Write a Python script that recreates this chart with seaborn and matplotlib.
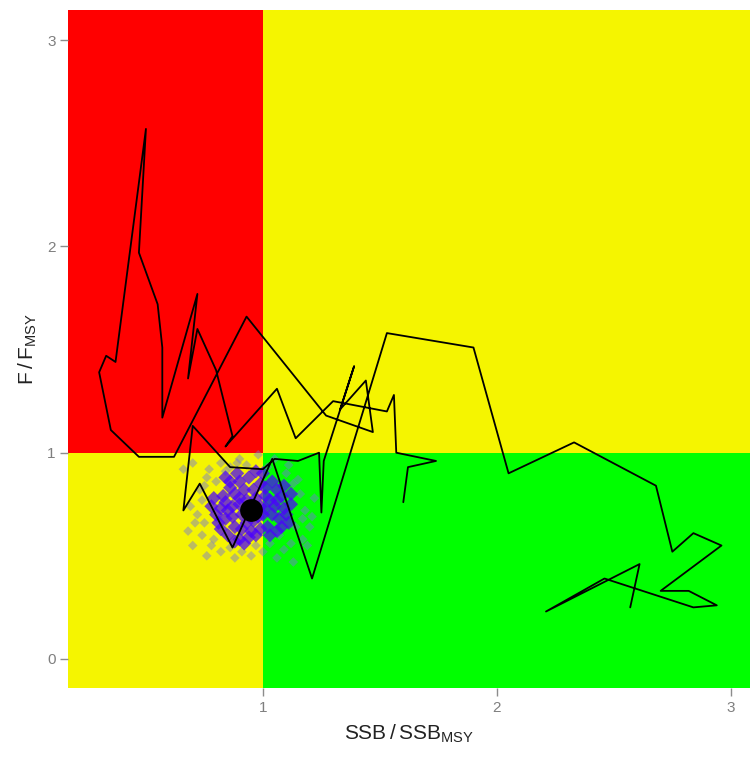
import matplotlib
matplotlib.use("Agg")
import matplotlib.pyplot as plt
import seaborn as sns
import pandas as pd
from matplotlib.patches import Rectangle

sns.set_theme(style="white")
plt.rcParams['font.family'] = ['Liberation Sans', 'DejaVu Sans']
plt.rcParams['mathtext.fontset'] = 'custom'
plt.rcParams['mathtext.rm'] = 'Liberation Sans'

# ---- data ----
traj_ssb = [2.57, 2.61, 2.21, 2.46, 2.84, 2.94, 2.82, 2.70, 2.96, 2.84, 2.75, 2.68,
            2.33, 2.05, 1.90, 1.53, 1.21, 1.04, 0.87, 0.73, 0.66, 0.70, 0.86, 1.00,
            1.05, 1.15, 1.24, 1.25, 1.26, 1.39, 1.33, 1.44, 1.47, 1.27, 0.93, 0.62,
            0.47, 0.35, 0.30, 0.33, 0.37, 0.50, 0.47, 0.55, 0.57, 0.57, 0.72, 0.68,
            0.72, 0.80, 0.87, 0.84, 1.06, 1.14, 1.30, 1.53, 1.56, 1.57, 1.74, 1.62, 1.60]
traj_f = [0.25, 0.46, 0.23, 0.39, 0.25, 0.26, 0.33, 0.33, 0.55, 0.61, 0.52, 0.84,
          1.05, 0.90, 1.51, 1.58, 0.39, 0.97, 0.54, 0.85, 0.72, 1.13, 0.93, 0.92,
          0.97, 0.96, 1.00, 0.71, 0.96, 1.42, 1.21, 1.35, 1.10, 1.18, 1.66, 0.98,
          0.98, 1.11, 1.39, 1.47, 1.44, 2.57, 1.97, 1.72, 1.51, 1.17, 1.77, 1.36,
          1.60, 1.40, 1.08, 1.03, 1.31, 1.07, 1.25, 1.20, 1.28, 1.00, 0.96, 0.93, 0.76]

cloud_core_ssb = [0.95, 0.90, 1.00, 0.93, 0.97, 0.85, 1.05, 0.88, 1.02, 0.92, 0.99, 0.83,
                  1.08, 0.86, 1.04, 0.80, 1.10, 0.90, 0.97, 1.06, 0.82, 0.94, 0.88, 1.01,
                  0.96, 0.91, 1.07, 0.84, 0.93, 0.99, 0.87, 1.03, 0.95, 0.78, 1.12, 0.92,
                  1.00, 0.89, 0.85, 1.09, 0.81, 0.84, 0.87, 0.90, 0.93, 0.96, 0.98, 1.01,
                  1.04, 1.06, 1.09, 0.91, 0.94, 0.99, 1.03, 0.86, 0.90, 0.96, 1.01, 1.06,
                  0.82, 0.88, 1.11, 1.08, 0.79, 0.97, 0.84, 1.12]
cloud_core_f = [0.72, 0.75, 0.70, 0.66, 0.78, 0.72, 0.74, 0.64, 0.64, 0.82, 0.85, 0.79,
                0.79, 0.86, 0.86, 0.70, 0.70, 0.58, 0.60, 0.62, 0.63, 0.88, 0.80, 0.79,
                0.67, 0.70, 0.68, 0.76, 0.77, 0.74, 0.69, 0.77, 0.62, 0.74, 0.75, 0.56,
                0.90, 0.90, 0.60, 0.84, 0.66, 0.68, 0.74, 0.78, 0.72, 0.75, 0.69, 0.73,
                0.70, 0.77, 0.73, 0.63, 0.59, 0.63, 0.60, 0.83, 0.86, 0.82, 0.83, 0.82,
                0.73, 0.57, 0.66, 0.64, 0.78, 0.91, 0.88, 0.80]

cloud_outer_ssb = [0.66, 0.70, 0.73, 0.68, 0.70, 0.74, 0.76, 0.82, 0.88, 0.95, 1.00, 1.06,
                   1.12, 1.17, 1.20, 1.18, 1.22, 1.15, 1.11, 1.05, 0.98, 0.90, 0.82, 0.76,
                   0.72, 0.75, 0.79, 0.86, 1.03, 1.14, 1.16, 1.10, 0.93, 0.80, 0.74, 0.77,
                   0.86, 1.19, 1.13, 1.07, 0.97, 0.81, 1.02, 0.71, 1.21, 0.78, 0.84, 0.91,
                   1.09, 1.17, 0.69, 0.75, 1.13, 0.89]
cloud_outer_f = [0.92, 0.95, 0.82, 0.62, 0.55, 0.60, 0.50, 0.52, 0.49, 0.50, 0.52, 0.49,
                 0.56, 0.58, 0.64, 0.72, 0.78, 0.87, 0.94, 0.97, 0.99, 0.97, 0.95, 0.88,
                 0.70, 0.66, 0.58, 0.54, 0.56, 0.64, 0.80, 0.90, 0.94, 0.86, 0.77, 0.92,
                 0.93, 0.55, 0.47, 0.60, 0.55, 0.68, 0.93, 0.66, 0.69, 0.55, 0.91, 0.52,
                 0.53, 0.68, 0.74, 0.84, 0.85, 0.95]

final_ssb = [0.95]
final_f = [0.72]

x_ticks = [1, 2, 3]
y_ticks = [0, 1, 2, 3]
x_limits = [0.167, 3.081]
y_limits = [-0.141, 3.146]
threshold = 1.0

# ---- figure ----
fig = plt.figure(figsize=(7.5, 7.6), dpi=100)
ax = fig.add_axes([0.0907, 0.0947, 0.909, 0.892])

big = 10
quads = [
    (x_limits[0] - big, threshold, threshold - (x_limits[0] - big), big, '#FF0000'),
    (threshold, threshold, big, big, '#F5F500'),
    (x_limits[0] - big, y_limits[0] - big, threshold - (x_limits[0] - big), threshold - (y_limits[0] - big), '#F5F500'),
    (threshold, y_limits[0] - big, big, threshold - (y_limits[0] - big), '#00FF00'),
]
for x0, y0, w, h, c in quads:
    ax.add_patch(Rectangle((x0, y0), w, h, facecolor=c, edgecolor='none', zorder=0))

outer_df = pd.DataFrame({'ssb': cloud_outer_ssb, 'f': cloud_outer_f})
core_df = pd.DataFrame({'ssb': cloud_core_ssb, 'f': cloud_core_f})
sns.scatterplot(data=outer_df, x='ssb', y='f', ax=ax, marker='D', s=24,
                color='#7474DC', alpha=0.45, edgecolor='none', zorder=2)
sns.scatterplot(data=core_df, x='ssb', y='f', ax=ax, marker='D', s=52,
                color='#4A00FF', alpha=0.72, edgecolor='none', zorder=3)

traj_df = pd.DataFrame({'ssb': traj_ssb, 'f': traj_f})
sns.lineplot(data=traj_df, x='ssb', y='f', ax=ax, sort=False, estimator=None,
             color='black', linewidth=1.3, zorder=4)

final_df = pd.DataFrame({'ssb': final_ssb, 'f': final_f})
sns.scatterplot(data=final_df, x='ssb', y='f', ax=ax, marker='o', s=230,
                color='black', edgecolor='black', zorder=5)

ax.set_xlim(*x_limits)
ax.set_ylim(*y_limits)
ax.set_xticks(x_ticks)
ax.set_yticks(y_ticks)
ax.set_xticklabels([str(t) for t in x_ticks])
ax.set_yticklabels([str(t) for t in y_ticks])
for s in ax.spines.values():
    s.set_visible(False)
ax.tick_params(axis='both', which='both', direction='out', length=6, width=1,
               color='#8c8c8c', labelcolor='#7f7f7f', labelsize=11, pad=3,
               bottom=True, left=True)
ax.set_xlabel(r'$\mathrm{SSB}\,/\,\mathrm{SSB}_{\mathrm{MSY}}$', fontsize=15,
              color='#222222', labelpad=6)
ax.set_ylabel(r'$\mathrm{F}\,/\,\mathrm{F}_{\mathrm{MSY}}$', fontsize=15,
              color='#222222', labelpad=6)

fig.savefig('out.png', dpi=100)
